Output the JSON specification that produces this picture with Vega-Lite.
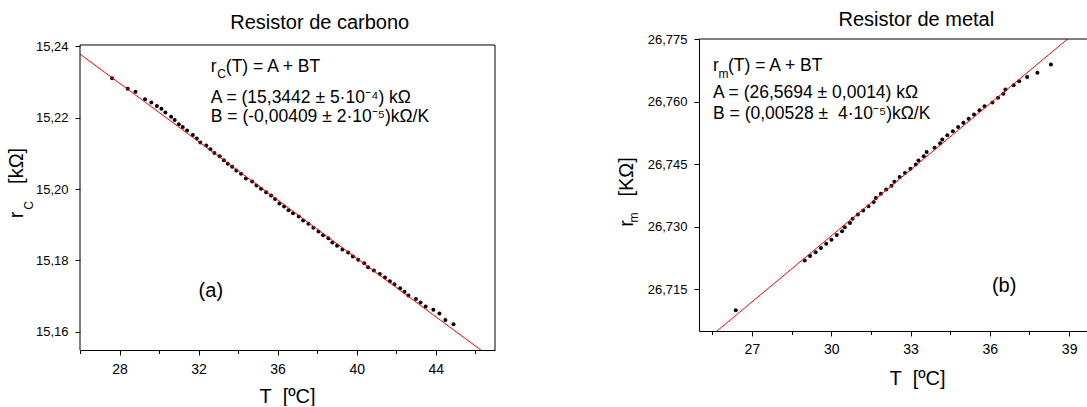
{
  "$schema": "https://vega.github.io/schema/vega-lite/v6.json",
  "background": "white",
  "padding": {"left": 6, "top": 9, "right": 0, "bottom": 0},
  "spacing": 121,
  "align": "none",
  "datasets": {
    "carbono": [
      {"T":27.62,"r":15.2311},{"T":28.415,"r":15.2281},{"T":28.81,"r":15.2273},{"T":29.29,"r":15.2252},{"T":29.61,"r":15.2243},{"T":29.89,"r":15.2233},{"T":30.12,"r":15.2225},{"T":30.32,"r":15.2215},{"T":30.61,"r":15.2203},{"T":30.79,"r":15.2194},{"T":31.0,"r":15.2182},{"T":31.2,"r":15.2174},{"T":31.42,"r":15.2164},{"T":31.71,"r":15.2152},{"T":31.91,"r":15.2142},{"T":32.09,"r":15.2131},{"T":32.39,"r":15.2122},{"T":32.6,"r":15.2112},{"T":32.8,"r":15.2101},{"T":33.07,"r":15.2092},{"T":33.28,"r":15.2081},{"T":33.48,"r":15.2071},{"T":33.7,"r":15.2063},{"T":33.91,"r":15.2052},{"T":34.15,"r":15.2043},{"T":34.39,"r":15.203},{"T":34.71,"r":15.2021},{"T":34.93,"r":15.201},{"T":35.16,"r":15.2001},{"T":35.42,"r":15.1991},{"T":35.67,"r":15.1982},{"T":35.87,"r":15.1972},{"T":36.09,"r":15.196},{"T":36.33,"r":15.1951},{"T":36.55,"r":15.1941},{"T":36.78,"r":15.1932},{"T":37.07,"r":15.1923},{"T":37.29,"r":15.1912},{"T":37.56,"r":15.1903},{"T":37.81,"r":15.1892},{"T":38.07,"r":15.1881},{"T":38.3,"r":15.1871},{"T":38.57,"r":15.1862},{"T":38.77,"r":15.185},{"T":39.01,"r":15.1841},{"T":39.28,"r":15.1831},{"T":39.57,"r":15.1822},{"T":39.81,"r":15.1811},{"T":40.08,"r":15.1802},{"T":40.38,"r":15.1792},{"T":40.58,"r":15.1781},{"T":40.87,"r":15.1772},{"T":41.17,"r":15.1762},{"T":41.43,"r":15.1752},{"T":41.68,"r":15.1742},{"T":41.91,"r":15.1733},{"T":42.2,"r":15.1722},{"T":42.42,"r":15.1712},{"T":42.62,"r":15.1702},{"T":43.0,"r":15.1692},{"T":43.23,"r":15.1682},{"T":43.49,"r":15.1671},{"T":43.88,"r":15.1662},{"T":44.19,"r":15.1651},{"T":44.49,"r":15.1633},{"T":44.9,"r":15.1621}
    ],
    "fitC": [{"T":26,"r":15.23786},{"T":47,"r":15.15197}],
    "metal": [
      {"T":26.39,"r":26.71},{"T":29.0,"r":26.7219},{"T":29.2,"r":26.723},{"T":29.41,"r":26.7239},{"T":29.61,"r":26.7249},{"T":29.81,"r":26.7259},{"T":30.01,"r":26.7269},{"T":30.21,"r":26.728},{"T":30.41,"r":26.7289},{"T":30.51,"r":26.7299},{"T":30.71,"r":26.7309},{"T":30.81,"r":26.7319},{"T":31.01,"r":26.7329},{"T":31.21,"r":26.7339},{"T":31.41,"r":26.7349},{"T":31.61,"r":26.7359},{"T":31.69,"r":26.7369},{"T":31.88,"r":26.7379},{"T":32.08,"r":26.7389},{"T":32.28,"r":26.7398},{"T":32.39,"r":26.7408},{"T":32.59,"r":26.7419},{"T":32.79,"r":26.7429},{"T":33.0,"r":26.7439},{"T":33.2,"r":26.7449},{"T":33.3,"r":26.7459},{"T":33.5,"r":26.7469},{"T":33.61,"r":26.7479},{"T":33.91,"r":26.7489},{"T":34.12,"r":26.75},{"T":34.2,"r":26.7509},{"T":34.39,"r":26.7519},{"T":34.6,"r":26.7529},{"T":34.8,"r":26.7539},{"T":35.0,"r":26.7549},{"T":35.2,"r":26.7559},{"T":35.4,"r":26.7569},{"T":35.61,"r":26.7579},{"T":35.8,"r":26.7589},{"T":36.1,"r":26.7598},{"T":36.31,"r":26.7609},{"T":36.51,"r":26.7619},{"T":36.59,"r":26.7629},{"T":36.9,"r":26.7639},{"T":37.11,"r":26.7649},{"T":37.41,"r":26.7659},{"T":37.8,"r":26.7669},{"T":38.31,"r":26.7689}
    ],
    "fitM": [{"T":25,"r":26.7014},{"T":39.675,"r":26.77888}],
    "one": [{}]
  },
  "hconcat": [
    {
      "width": 415,
      "height": 311,
      "view": {"stroke": null},
      "layer": [
        {
          "data": {"name": "carbono"},
          "mark": {"type": "circle", "color": "black", "opacity": 1, "size": 16},
          "encoding": {
            "x": {"field": "T", "type": "quantitative",
              "scale": {"domain": [26, 47], "nice": false, "zero": false},
              "axis": {"values": [26,28,30,32,34,36,38,40,42,44,46],
                "labelExpr": "datum.value % 4 === 0 ? datum.label : ''",
                "tickSize": {"condition": {"test": "datum.value % 4 === 0", "value": 5}, "value": 3.5},
                "labelFontSize": 14, "labelPadding": 7,
                "title": "T\u00a0\u00a0[ºC]", "titleFontSize": 20, "titleX": 207, "titleY": 52,
                "titleBaseline": "alphabetic", "titleAlign": "center"}},
            "y": {"field": "r", "type": "quantitative",
              "scale": {"domain": [15.1549, 15.24208], "nice": false, "zero": false},
              "axis": {"values": [15.16,15.17,15.18,15.19,15.2,15.21,15.22,15.23,15.24],
                "labelExpr": "round(datum.value*100) % 2 === 0 ? replace(format(datum.value, '.2f'), '.', ',') : ''",
                "tickSize": {"condition": {"test": "round(datum.value*100) % 2 === 0", "value": 5}, "value": 3.5},
                "domain": false,
                "labelFontSize": 13, "labelPadding": 7, "title": null}}
          }
        },
        {
          "data": {"name": "fitC"},
          "mark": {"type": "line", "color": "#ff0000", "strokeWidth": 1, "clip": true},
          "encoding": {"x": {"field": "T", "type": "quantitative"}, "y": {"field": "r", "type": "quantitative"}}
        },
        {
          "data": {"name": "one"},
          "mark": {"type": "rule", "color": "black", "strokeWidth": 1},
          "encoding": {"x": {"datum": 26, "type": "quantitative"}, "x2": {"datum": 47}, "y": {"datum": 15.2404, "type": "quantitative"}}
        },
        {
          "data": {"name": "one"},
          "mark": {"type": "rule", "color": "black", "strokeWidth": 1},
          "encoding": {"x": {"datum": 47, "type": "quantitative"}, "y": {"datum": 15.1549, "type": "quantitative"}, "y2": {"datum": 15.2404}}
        },
        {
          "data": {"name": "one"},
          "mark": {"type": "rule", "color": "black", "strokeWidth": 1},
          "encoding": {"x": {"datum": 26, "type": "quantitative"}, "y": {"datum": 15.1549, "type": "quantitative"}, "y2": {"datum": 15.2404}}
        },
        {
          "data": {"name": "one"},
          "mark": {"type": "text", "text": ["", "Resistor de carbono"], "lineHeight": 3, "fontSize": 20, "align": "center", "baseline": "alphabetic"},
          "encoding": {"x": {"datum": 38.13, "type": "quantitative"}, "y": {"datum": 15.24572, "type": "quantitative"}}
        },
        {
          "data": {"name": "one"},
          "mark": {"type": "text", "text": "r", "fontSize": 17.5, "align": "left", "baseline": "alphabetic"},
          "encoding": {"x": {"datum": 32.62, "type": "quantitative"}, "y": {"datum": 15.23292, "type": "quantitative"}}
        },
        {
          "data": {"name": "one"},
          "mark": {"type": "text", "text": "C", "fontSize": 12, "align": "left", "baseline": "alphabetic", "dx": 6.5, "dy": 6.5},
          "encoding": {"x": {"datum": 32.62, "type": "quantitative"}, "y": {"datum": 15.23292, "type": "quantitative"}}
        },
        {
          "data": {"name": "one"},
          "mark": {"type": "text", "text": "(T) = A + BT", "fontSize": 17.5, "align": "left", "baseline": "alphabetic", "dx": 15},
          "encoding": {"x": {"datum": 32.62, "type": "quantitative"}, "y": {"datum": 15.23292, "type": "quantitative"}}
        },
        {
          "data": {"name": "one"},
          "mark": {"type": "text", "text": "A = (15,3442 ± 5·10⁻⁴) kΩ", "fontSize": 17.5, "align": "left", "baseline": "alphabetic"},
          "encoding": {"x": {"datum": 32.62, "type": "quantitative"}, "y": {"datum": 15.22424, "type": "quantitative"}}
        },
        {
          "data": {"name": "one"},
          "mark": {"type": "text", "text": "B = (-0,00409 ± 2·10⁻⁵)kΩ/K", "fontSize": 17.5, "align": "left", "baseline": "alphabetic"},
          "encoding": {"x": {"datum": 32.62, "type": "quantitative"}, "y": {"datum": 15.21892, "type": "quantitative"}}
        },
        {
          "data": {"name": "one"},
          "mark": {"type": "text", "text": "(a)", "fontSize": 20, "align": "center", "baseline": "alphabetic"},
          "encoding": {"x": {"datum": 32.62, "type": "quantitative"}, "y": {"datum": 15.16984, "type": "quantitative"}}
        },
        {
          "data": {"name": "one"},
          "mark": {"type": "text", "text": "[kΩ]", "fontSize": 20, "angle": 270, "align": "center", "baseline": "alphabetic"},
          "encoding": {"x": {"datum": 23.1, "type": "quantitative"}, "y": {"datum": 15.20652, "type": "quantitative"}}
        },
        {
          "data": {"name": "one"},
          "mark": {"type": "text", "text": "r", "fontSize": 20, "angle": 270, "align": "center", "baseline": "alphabetic"},
          "encoding": {"x": {"datum": 23.1, "type": "quantitative"}, "y": {"datum": 15.1928, "type": "quantitative"}}
        },
        {
          "data": {"name": "one"},
          "mark": {"type": "text", "text": "C", "fontSize": 12, "angle": 270, "align": "center", "baseline": "alphabetic"},
          "encoding": {"x": {"datum": 23.6, "type": "quantitative"}, "y": {"datum": 15.19546, "type": "quantitative"}}
        }
      ]
    },
    {
      "width": 388,
      "height": 292,
      "view": {"stroke": null},
      "layer": [
        {
          "data": {"name": "metal"},
          "mark": {"type": "circle", "color": "black", "opacity": 1, "size": 16},
          "encoding": {
            "x": {"field": "T", "type": "quantitative",
              "scale": {"domain": [25, 39.675], "nice": false, "zero": false},
              "axis": {"values": [25.5,27,28.5,30,31.5,33,34.5,36,37.5,39],
                "labelExpr": "datum.value % 3 === 0 ? datum.label : ''",
                "tickSize": {"condition": {"test": "datum.value % 3 === 0", "value": 5}, "value": 3.5},
                "labelFontSize": 14, "labelPadding": 6,
                "title": "T\u00a0\u00a0[ºC]", "titleFontSize": 20, "titleX": 218, "titleY": 53,
                "titleBaseline": "alphabetic", "titleAlign": "center"}},
            "y": {"field": "r", "type": "quantitative",
              "scale": {"domain": [26.705, 26.775], "nice": false, "zero": false},
              "axis": {"values": [26.715, 26.73, 26.745, 26.76, 26.775],
                "labelExpr": "replace(format(datum.value, '.3f'), '.', ',')",
                "tickSize": 5,
                "labelFontSize": 13, "labelPadding": 7, "title": null}}
          }
        },
        {
          "data": {"name": "fitM"},
          "mark": {"type": "line", "color": "#ff0000", "strokeWidth": 1, "clip": true},
          "encoding": {"x": {"field": "T", "type": "quantitative"}, "y": {"field": "r", "type": "quantitative"}}
        },
        {
          "data": {"name": "one"},
          "mark": {"type": "rule", "color": "black", "strokeWidth": 1},
          "encoding": {"y": {"datum": 26.775, "type": "quantitative"}}
        },
        {
          "data": {"name": "one"},
          "mark": {"type": "text", "text": "Resistor de metal", "fontSize": 20, "align": "center", "baseline": "alphabetic"},
          "encoding": {"x": {"datum": 33.22, "type": "quantitative"}, "y": {"datum": 26.77819, "type": "quantitative"}}
        },
        {
          "data": {"name": "one"},
          "mark": {"type": "text", "text": "r", "fontSize": 17.5, "align": "left", "baseline": "alphabetic"},
          "encoding": {"x": {"datum": 25.53, "type": "quantitative"}, "y": {"datum": 26.76722, "type": "quantitative"}}
        },
        {
          "data": {"name": "one"},
          "mark": {"type": "text", "text": "m", "fontSize": 12, "align": "left", "baseline": "alphabetic", "dx": 5.5, "dy": 6.5},
          "encoding": {"x": {"datum": 25.53, "type": "quantitative"}, "y": {"datum": 26.76722, "type": "quantitative"}}
        },
        {
          "data": {"name": "one"},
          "mark": {"type": "text", "text": "(T) = A + BT", "fontSize": 17.5, "align": "left", "baseline": "alphabetic", "dx": 15},
          "encoding": {"x": {"datum": 25.53, "type": "quantitative"}, "y": {"datum": 26.76722, "type": "quantitative"}}
        },
        {
          "data": {"name": "one"},
          "mark": {"type": "text", "text": "A = (26,5694 ± 0,0014) kΩ", "fontSize": 17.5, "align": "left", "baseline": "alphabetic"},
          "encoding": {"x": {"datum": 25.53, "type": "quantitative"}, "y": {"datum": 26.76084, "type": "quantitative"}}
        },
        {
          "data": {"name": "one"},
          "mark": {"type": "text", "text": "B = (0,00528 ±\u00a0 4·10⁻⁵)kΩ/K", "fontSize": 17.5, "align": "left", "baseline": "alphabetic"},
          "encoding": {"x": {"datum": 25.53, "type": "quantitative"}, "y": {"datum": 26.7558, "type": "quantitative"}}
        },
        {
          "data": {"name": "one"},
          "mark": {"type": "text", "text": "(b)", "fontSize": 20, "align": "center", "baseline": "alphabetic"},
          "encoding": {"x": {"datum": 36.54, "type": "quantitative"}, "y": {"datum": 26.71435, "type": "quantitative"}}
        },
        {
          "data": {"name": "one"},
          "mark": {"type": "text", "text": "[KΩ]", "fontSize": 20, "angle": 270, "align": "center", "baseline": "alphabetic"},
          "encoding": {"x": {"datum": 22.515, "type": "quantitative"}, "y": {"datum": 26.74195, "type": "quantitative"}}
        },
        {
          "data": {"name": "one"},
          "mark": {"type": "text", "text": "r", "fontSize": 20, "angle": 270, "align": "center", "baseline": "alphabetic"},
          "encoding": {"x": {"datum": 22.515, "type": "quantitative"}, "y": {"datum": 26.73079, "type": "quantitative"}}
        },
        {
          "data": {"name": "one"},
          "mark": {"type": "text", "text": "m", "fontSize": 12, "angle": 270, "align": "center", "baseline": "alphabetic"},
          "encoding": {"x": {"datum": 22.685, "type": "quantitative"}, "y": {"datum": 26.73218, "type": "quantitative"}}
        }
      ]
    }
  ],
  "config": {
    "font": "Liberation Sans",
    "view": {"stroke": "black", "strokeWidth": 1},
    "axis": {"grid": false, "domainColor": "black", "tickColor": "black", "labelColor": "black", "titleColor": "black", "titleFontWeight": "normal", "labelFlush": false, "labelOverlap": false, "labelFont": "Liberation Sans", "titleFont": "Liberation Sans"},
    "text": {"color": "black", "font": "Liberation Sans"}
  }
}
